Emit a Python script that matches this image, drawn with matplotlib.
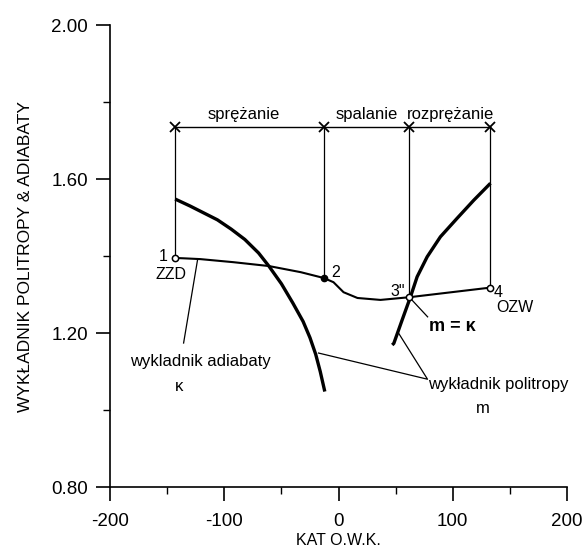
import matplotlib
matplotlib.use("Agg")
import matplotlib.pyplot as plt
from matplotlib.ticker import MultipleLocator

plt.rcParams['font.family'] = ['Liberation Sans', 'DejaVu Sans']

# phase boundaries (crank angle) and their kappa values
phase_x = [-143, -13, 62, 133]
phase_top = 1.735
phase_names = ["sprężanie", "spalanie", "rozprężanie"]
phase_label_x = [-83, 25, 98]

# adiabatic exponent kappa (thin line 1 -> 2 -> 3" -> 4)
kappa_x = [-143, -135, -121, -92, -61, -33, -13, -4.4, 4.4, 16.6, 36.7, 62, 133]
kappa_y = [1.395, 1.394, 1.392, 1.384, 1.374, 1.358, 1.343, 1.332, 1.306, 1.291, 1.286, 1.293, 1.318]

# polytropic exponent m: compression branch and expansion branch
m_comp_x = [-143, -130, -118, -106, -94, -82, -70, -61, -50, -40, -31, -25, -20, -16, -12]
m_comp_y = [1.548, 1.530, 1.512, 1.494, 1.470, 1.443, 1.408, 1.374, 1.328, 1.278, 1.230,
            1.188, 1.145, 1.100, 1.048]
m_exp_x = [47, 48.4, 55.7, 63, 68.8, 77.6, 89.2, 103.8, 118.4, 133]
m_exp_y = [1.169, 1.173, 1.234, 1.294, 1.346, 1.398, 1.450, 1.498, 1.545, 1.589]

# marked points
pt_labels = ["1", "2", '3"', "4"]
pt_x = [-143, -13, 62, 133]
pt_y = [1.395, 1.343, 1.293, 1.318]

fig = plt.figure(figsize=(5.84, 5.49), dpi=100)
ax = fig.add_axes([0.1884, 0.1129, 0.7825, 0.8415])

ax.set_xlim(-200, 200)
ax.set_ylim(0.80, 2.00)

for s in ['top', 'right']:
    ax.spines[s].set_visible(False)
for s in ['left', 'bottom']:
    ax.spines[s].set_linewidth(1.2)

ax.xaxis.set_minor_locator(MultipleLocator(50))
ax.yaxis.set_minor_locator(MultipleLocator(0.2))
ax.set_yticks([0.8, 1.2, 1.6, 2.0])
ax.set_yticklabels(["0.80", "1.20", "1.60", "2.00"])
ax.set_xticks([-200, -100, 0, 100, 200])
ax.set_xticklabels(["-200", "-100", "0", "100", "200"])
ax.tick_params(axis='both', which='major', direction='out', length=10, width=1.2, labelsize=13.5, color='black')
ax.tick_params(axis='both', which='minor', direction='out', length=5, width=1.0)
ax.tick_params(axis='y', which='major', pad=6)
ax.tick_params(axis='x', which='major', pad=9)

ax.set_xlabel("KAT O.W.K.", fontsize=11.5, labelpad=2)
ax.set_ylabel("WYKŁADNIK POLITROPY & ADIABATY", fontsize=12.5, labelpad=13)

# top phase line with x markers
ax.plot([phase_x[0], phase_x[-1]], [phase_top, phase_top], color='black', lw=1.0)
ax.plot(phase_x, [phase_top] * len(phase_x), ls='none', marker='x', ms=7, mew=1.3, color='black')
for x, y in zip(phase_x, pt_y):
    ax.plot([x, x], [phase_top, y], color='black', lw=0.9)
for name, x in zip(phase_names, phase_label_x):
    ax.text(x, phase_top + 0.012, name, ha='center', va='bottom', fontsize=12)

# curves
ax.plot(kappa_x, kappa_y, color='black', lw=1.5, zorder=3)
ax.plot(m_comp_x, m_comp_y, color='black', lw=2.4, zorder=3, solid_capstyle='butt')
ax.plot(m_exp_x, m_exp_y, color='black', lw=2.4, zorder=3, solid_capstyle='butt')

# point markers
ax.plot([pt_x[0], pt_x[2], pt_x[3]], [pt_y[0], pt_y[2], pt_y[3]], ls='none', marker='o', ms=4.5,
        mfc='white', mec='black', mew=1.1, zorder=4)
ax.plot([pt_x[1]], [pt_y[1]], ls='none', marker='o', ms=4.5, color='black', zorder=4)

# point labels
ax.text(-149.5, 1.40, pt_labels[0], ha='right', va='center', fontsize=11.5)
ax.text(-147, 1.351, "ZZD", ha='center', va='center', fontsize=11.5)
ax.text(-6.5, 1.358, pt_labels[1], ha='left', va='center', fontsize=11.5)
ax.text(52, 1.309, pt_labels[2], ha='center', va='center', fontsize=11.5)
ax.text(136, 1.305, pt_labels[3], ha='left', va='center', fontsize=11.5)
ax.text(154, 1.265, "OZW", ha='center', va='center', fontsize=11.5)

# annotations with leader lines
ax.plot([62, 78], [1.293, 1.242], color='black', lw=0.9)
ax.text(100, 1.216, "m = κ", ha='center', va='center', fontsize=13, fontweight='bold')

ax.plot([-135.6, -123.4], [1.174, 1.39], color='black', lw=0.9)
ax.text(-121, 1.125, "wykladnik adiabaty", ha='center', va='center', fontsize=12)
ax.text(-140, 1.062, "κ", ha='center', va='center', fontsize=12)

ax.plot([-17.5, 77.9, 52.5], [1.148, 1.08, 1.20], color='black', lw=0.9)
ax.text(140, 1.065, "wykładnik politropy", ha='center', va='center', fontsize=12)
ax.text(126, 1.005, "m", ha='center', va='center', fontsize=12)

fig.savefig("out.png", dpi=100)
